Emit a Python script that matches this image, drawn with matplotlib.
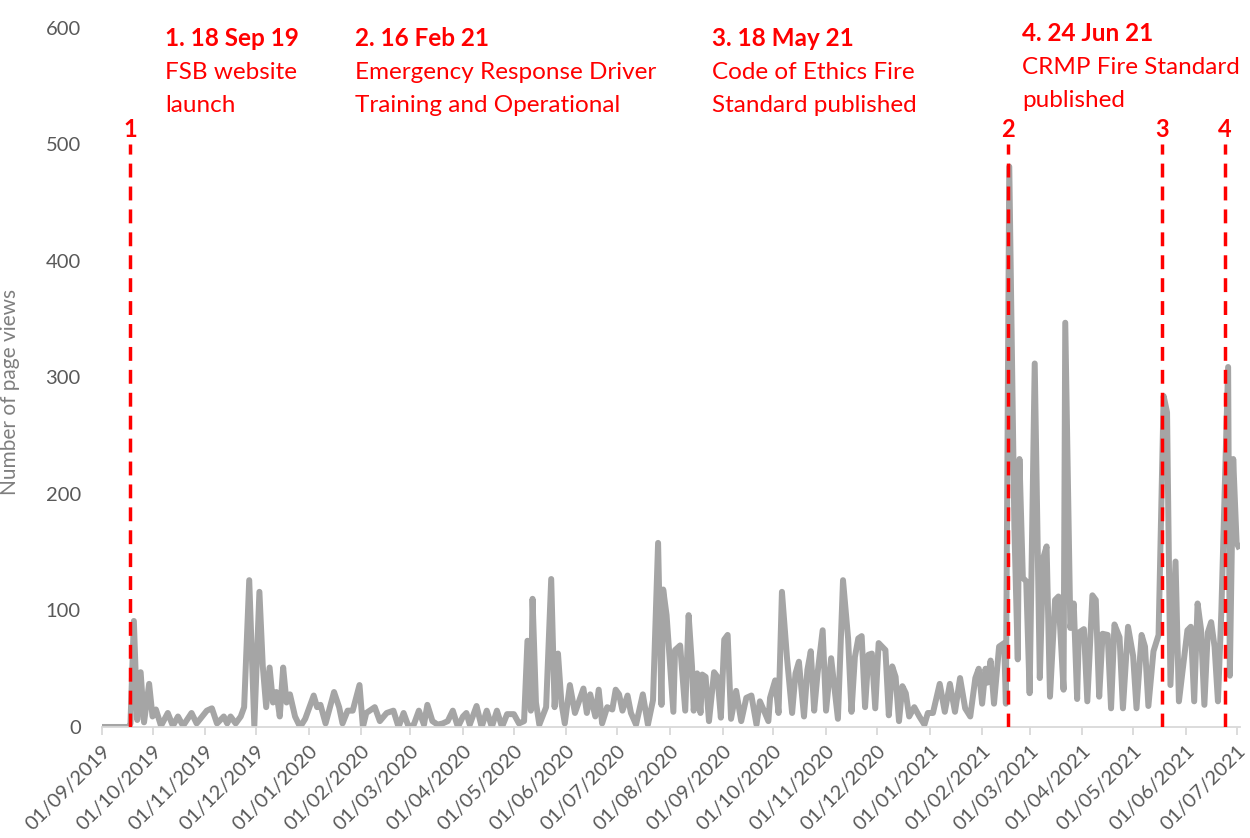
import pandas as pd
import numpy as np
import matplotlib
matplotlib.use('Agg')
import matplotlib.pyplot as plt
import matplotlib.dates as mdates

# 数据：自 2019-09-01 起的天数 与 页面浏览量
start = pd.Timestamp('2019-09-01')
day_offset = [
    0, 16, 17, 19, 21, 23, 25, 28, 30, 32, 35, 39, 42, 45, 48, 53, 56, 62, 65, 68,
    72, 74, 76, 79, 82, 84, 87, 90, 93, 95, 97, 99, 101, 103, 105, 107, 109, 111, 114, 117,
    120, 123, 125, 127, 129, 132, 137, 140, 142, 145, 148, 152, 154, 156, 161, 164, 168, 172, 175, 178,
    181, 184, 187, 190, 192, 195, 198, 201, 204, 207, 210, 213, 215, 217, 221, 224, 227, 230, 233, 236,
    239, 243, 246, 249, 251, 253, 254, 256, 258, 262, 265, 267, 269, 271, 273, 276, 279, 284, 286, 288,
    291, 293, 295, 298, 301, 303, 305, 307, 310, 312, 315, 319, 322, 325, 328, 330, 331, 333, 337, 338,
    341, 344, 346, 348, 349, 351, 353, 354, 356, 358, 361, 363, 365, 367, 369, 371, 374, 377, 380, 383,
    386, 388, 391, 393, 394, 397, 399, 401, 404, 407, 409, 411, 414, 416, 418, 420, 422, 425, 427, 430,
    432, 434, 437, 440, 442, 444, 446, 448, 450, 452, 454, 456, 458, 462, 464, 466, 468, 470, 472, 474,
    476, 479, 482, 485, 487, 490, 494, 497, 500, 503, 506, 509, 512, 515, 517, 519, 521, 522, 524, 526,
    529, 532, 533, 535, 538, 540, 541, 543, 545, 547, 550, 553, 555, 557, 559, 562, 564, 567, 568, 571,
    573, 575, 576, 579, 581, 584, 586, 588, 590, 593, 595, 597, 600, 602, 605, 608, 610, 613, 615, 617,
    620, 623, 626, 628, 630, 633, 635, 640, 642, 644, 646, 648, 650, 652, 654, 656, 658, 660, 664, 665,
    667, 669, 670,
]
page_views = [
    0, 0, 3, 91, 6, 47, 4, 37, 9, 15, 1, 12, 1, 9, 1, 12, 3, 14, 16, 3,
    9, 3, 9, 3, 9, 17, 126, 1, 116, 52, 17, 51, 21, 30, 9, 51, 21, 28, 9, 0,
    7, 19, 27, 17, 19, 3, 30, 17, 3, 14, 14, 36, 0, 12, 17, 5, 12, 14, 0, 12,
    0, 2, 14, 2, 19, 5, 2, 3, 5, 14, 0, 9, 12, 2, 18, 0, 14, 0, 14, 0,
    11, 11, 3, 5, 74, 14, 110, 21, 2, 17, 127, 17, 63, 21, 3, 36, 12, 33, 12, 28,
    9, 32, 3, 17, 15, 32, 28, 14, 27, 12, 2, 28, 2, 23, 158, 19, 118, 96, 13, 66,
    70, 14, 96, 52, 14, 46, 12, 45, 43, 5, 47, 43, 8, 75, 79, 7, 31, 5, 25, 27,
    2, 22, 12, 5, 25, 40, 12, 116, 59, 12, 46, 56, 9, 49, 65, 14, 46, 83, 14, 59,
    33, 7, 126, 76, 13, 60, 76, 78, 17, 62, 63, 16, 72, 66, 10, 52, 43, 5, 35, 29,
    9, 17, 9, 2, 12, 12, 37, 13, 37, 13, 42, 16, 9, 42, 50, 20, 50, 38, 57, 20,
    69, 72, 20, 481, 172, 58, 230, 128, 125, 29, 312, 42, 145, 155, 26, 109, 112, 32, 347, 85,
    106, 24, 81, 84, 22, 113, 109, 26, 80, 79, 16, 88, 77, 16, 86, 61, 16, 79, 69, 18,
    65, 79, 284, 270, 36, 142, 22, 83, 86, 22, 106, 84, 19, 81, 90, 69, 22, 99, 309, 44,
    230, 158, 155,
]

# 事件
event_dates = ['2019-09-18', '2021-02-16', '2021-05-18', '2021-06-24']
event_ids = ['1', '2', '3', '4']
event_titles = ['1. 18 Sep 19', '2. 16 Feb 21', '3. 18 May 21', '4. 24 Jun 21']
event_texts = ['FSB website\nlaunch',
               'Emergency Response Driver\nTraining and Operational',
               'Code of Ethics Fire\nStandard published',
               'CRMP Fire Standard\npublished']

dates = start + pd.to_timedelta(day_offset, unit='D')

plt.rcParams['font.family'] = ['Lato', 'DejaVu Sans']
fig = plt.figure(figsize=(12.5, 8.38), dpi=100)
ax = fig.add_axes([0.0813, 0.1325, 0.9107, 0.8341])

ax.plot(dates, page_views, color='#A5A5A5', linewidth=4.3, solid_joinstyle='round')

red = '#FF0000'
for d in event_dates:
    ax.plot([pd.Timestamp(d)] * 2, [0, 500], color=red, linewidth=2.5,
            dashes=(4, 2.6), zorder=3)

ax.set_xlim(start, start + pd.Timedelta(days=671))
ax.set_ylim(0, 600)
ax.set_yticks(range(0, 601, 100))

ax.xaxis.set_major_locator(mdates.MonthLocator())
ax.xaxis.set_major_formatter(mdates.DateFormatter('%d/%m/%Y'))
for lab in ax.get_xticklabels():
    lab.set_rotation(45)
    lab.set_ha('right')
    lab.set_rotation_mode('anchor')

for s in ['top', 'right', 'left']:
    ax.spines[s].set_visible(False)
ax.spines['bottom'].set_color('#D9D9D9')
ax.spines['bottom'].set_linewidth(1.3)
ax.tick_params(axis='x', colors='#D9D9D9', length=6, width=1.3, pad=5,
               labelcolor='#595959', labelsize=14.5)
ax.tick_params(axis='y', length=0, pad=15, labelcolor='#595959', labelsize=14.5)

ax.set_ylabel('Number of page views', color='#7F7F7F', fontsize=15)
ax.yaxis.set_label_coords(-0.072, 0.48)

# 注释文字
title_x = [0.0557, 0.2226, 0.536, 0.8085]
title_y = [1.0014, 1.0014, 1.0014, 1.0086]
for i in range(4):
    ax.text(title_x[i], title_y[i], event_titles[i], transform=ax.transAxes,
            color=red, fontsize=17.5, fontweight='bold', va='top', ha='left')
    ax.text(title_x[i], title_y[i] - 0.050, event_texts[i], transform=ax.transAxes,
            color=red, fontsize=17.5, va='top', ha='left', linespacing=1.72)
    ax.text(pd.Timestamp(event_dates[i]), 523, event_ids[i], color=red,
            fontsize=17, fontweight='bold', va='top', ha='center')

fig.savefig('out.png', dpi=100)
